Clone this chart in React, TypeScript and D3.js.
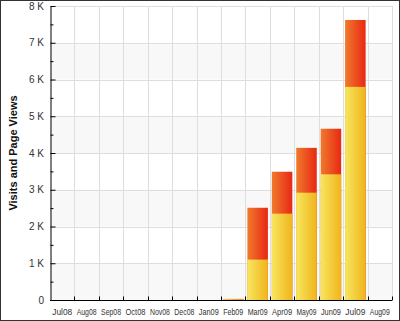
import React, { useEffect, useRef } from 'react';
import * as d3 from 'd3';

const months = ['Jul08', 'Aug08', 'Sep08', 'Oct08', 'Nov08', 'Dec08', 'Jan09', 'Feb09', 'Mar09', 'Apr09', 'May09', 'Jun09', 'Jul09', 'Aug09'];
const pageViews = [0, 0, 0, 0, 0, 0, 0, 30, 2510, 3490, 4140, 4660, 7620, 0];
const visits = [0, 0, 0, 0, 0, 0, 0, 20, 1100, 2350, 2920, 3420, 5800, 0];
const yTicks = [0, 1000, 2000, 3000, 4000, 5000, 6000, 7000, 8000];

const App = () => {
    const ref = useRef<SVGSVGElement>(null);

    useEffect(() => {
        const svg = d3.select(ref.current);
        svg.selectAll('*').remove();

        const width = 400;
        const height = 321;
        const margin = { top: 6, right: 8, bottom: 21, left: 50 };
        const font = '"Liberation Sans", Arial, sans-serif';

        const x = d3.scaleBand()
            .domain(months)
            .range([margin.left, width - margin.right])
            .paddingInner(0.16)
            .paddingOuter(0.08);
        const step = x.step();
        const y = d3.scaleLinear()
            .domain([0, 8000])
            .range([height - margin.bottom, margin.top]);

        const defs = svg.append('defs');
        const grad = (id: string, c1: string, c2: string) => {
            const g = defs.append('linearGradient').attr('id', id)
                .attr('x1', '0').attr('x2', '1').attr('y1', '0').attr('y2', '0');
            g.append('stop').attr('offset', '0%').attr('stop-color', c1);
            g.append('stop').attr('offset', '100%').attr('stop-color', c2);
        };
        grad('gViews', '#f07a2c', '#e82814');
        grad('gVisits', '#f7e65e', '#f0b41c');

        svg.append('rect')
            .attr('x', 0.5).attr('y', 0.5)
            .attr('width', width - 1).attr('height', height - 1)
            .attr('fill', '#fff').attr('stroke', '#333');

        // alternating bands
        svg.append('g').selectAll('rect')
            .data(yTicks.slice(0, -1).filter((_, i) => i % 2 === 0))
            .enter().append('rect')
            .attr('x', margin.left)
            .attr('width', width - margin.right - margin.left)
            .attr('y', d => y(d + 1000))
            .attr('height', d => y(d) - y(d + 1000))
            .attr('fill', '#f8f8f8');

        // grid
        svg.append('g').selectAll('line')
            .data(yTicks.slice(1))
            .enter().append('line')
            .attr('x1', margin.left).attr('x2', width - margin.right)
            .attr('y1', d => Math.round(y(d)) + 0.5).attr('y2', d => Math.round(y(d)) + 0.5)
            .attr('stroke', '#dedede');
        svg.append('g').selectAll('line')
            .data(months)
            .enter().append('line')
            .attr('x1', d => Math.round(x(d)! - step * 0.08 + step) + 0.5)
            .attr('x2', d => Math.round(x(d)! - step * 0.08 + step) + 0.5)
            .attr('y1', margin.top).attr('y2', height - margin.bottom)
            .attr('stroke', '#dedede');

        // bars: page views behind, visits in front
        svg.append('g').selectAll('rect')
            .data(months.map((m, i) => ({ m, v: pageViews[i] })).filter(d => d.v > 0))
            .enter().append('rect')
            .attr('x', d => x(d.m)!)
            .attr('width', x.bandwidth())
            .attr('y', d => y(d.v))
            .attr('height', d => y(0) - y(d.v))
            .attr('fill', 'url(#gViews)');
        svg.append('g').selectAll('rect')
            .data(months.map((m, i) => ({ m, v: visits[i] })).filter(d => d.v > 0))
            .enter().append('rect')
            .attr('x', d => x(d.m)!)
            .attr('width', x.bandwidth())
            .attr('y', d => y(d.v))
            .attr('height', d => y(0) - y(d.v))
            .attr('fill', 'url(#gVisits)');

        // y axis
        const yAxis = d3.axisRight(y)
            .tickValues(d3.range(0, 8001, 500))
            .tickSize(0)
            .tickFormat(() => '');
        const yg = svg.append('g')
            .attr('transform', `translate(${margin.left + 0.5},0)`)
            .call(yAxis);
        yg.select('.domain').attr('stroke', '#000');
        yg.selectAll('.tick line')
            .attr('x2', (d: any) => (d % 1000 === 0 ? 5 : 3))
            .attr('stroke', '#000');
        svg.append('g').selectAll('text')
            .data(yTicks)
            .enter().append('text')
            .attr('x', margin.left - 6)
            .attr('y', d => y(d) + 3.5)
            .attr('text-anchor', 'end')
            .attr('font-family', font)
            .attr('font-size', 10)
            .attr('fill', '#333')
            .text(d => (d === 0 ? '0' : `${d / 1000} K`));

        // x axis
        const xg = svg.append('g')
            .attr('transform', `translate(0,${height - margin.bottom + 0.5})`);
        xg.append('line')
            .attr('x1', margin.left).attr('x2', width - margin.right)
            .attr('stroke', '#000');
        xg.selectAll('line.t')
            .data(months)
            .enter().append('line')
            .attr('class', 't')
            .attr('x1', d => Math.round(x(d)! - step * 0.08 + step) + 0.5)
            .attr('x2', d => Math.round(x(d)! - step * 0.08 + step) + 0.5)
            .attr('y1', 0).attr('y2', -4)
            .attr('stroke', '#000');
        xg.selectAll('text')
            .data(months)
            .enter().append('text')
            .attr('x', d => x(d)! + x.bandwidth() / 2)
            .attr('y', 14)
            .attr('text-anchor', 'middle')
            .attr('font-family', font)
            .attr('font-size', 9)
            .attr('fill', '#333')
            .text(d => d)
            .each(function () {
                const t = this as SVGTextElement;
                if (t.getComputedTextLength() > 20) {
                    t.setAttribute('textLength', '20');
                    t.setAttribute('lengthAdjust', 'spacingAndGlyphs');
                }
            });

        svg.append('text')
            .attr('transform', `translate(17,${(margin.top + height - margin.bottom) / 2}) rotate(-90)`)
            .attr('text-anchor', 'middle')
            .attr('font-family', font)
            .attr('font-size', 11)
            .attr('font-weight', 'bold')
            .attr('fill', '#111')
            .text('Visits and Page Views');
    }, []);

    return (
        <svg ref={ref} width={400} height={321}
            style={{ position: 'absolute', left: 0, top: 0, display: 'block' }} />
    );
};

export default App;
